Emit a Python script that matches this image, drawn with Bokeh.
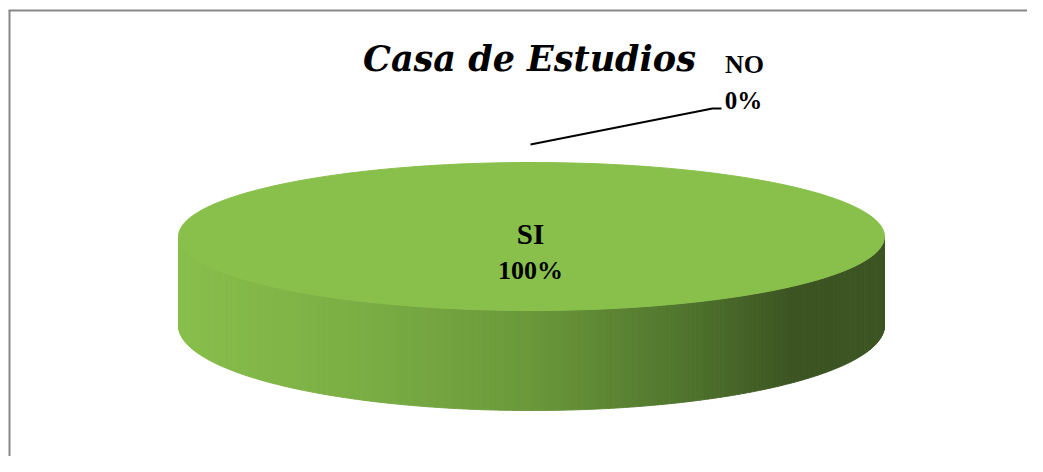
import numpy as np
from bokeh.plotting import figure
from bokeh.models import Range1d
from bokeh.core.properties import value
from bokeh.embed import file_html
from bokeh.resources import INLINE

# ---- data ----
title_text = "Casa de Estudios"
categories = ["SI", "NO"]
values = [100, 0]
slice_colors = ["#89c04c", "#4f81bd"]

# ---- layout (reference pixel coordinates) ----
W, H = 1027, 456
cx, cy = 531.0, 236.0
a, b_top = 353.0, 74.0
depth = 89.0
b_bot = 85.0
FONT = "Liberation Serif"
TFONT = "DejaVu Serif"

p = figure(width=W, height=H, output_backend="svg", toolbar_location=None,
           x_range=Range1d(0, W), y_range=Range1d(H, 0),
           min_border=0, border_fill_color="white")
p.axis.visible = False
p.grid.visible = False
p.outline_line_color = None
p.background_fill_color = "white"

# chart area border (top and left visible)
p.line([8, W + 20], [10, 10], line_color="#888888", line_width=2)
p.line([9, 9], [10, H + 20], line_color="#888888", line_width=2)

total = float(sum(values))
fracs = [v / total for v in values]
starts = np.cumsum([0.0] + fracs[:-1]) * 2 * np.pi
ends = starts + np.array(fracs) * 2 * np.pi


def top_pt(t):
    return cx + a * np.sin(t), cy - b_top * np.cos(t)


def bot_pt(t):
    return cx + a * np.sin(t), cy + depth - b_bot * np.cos(t)


# side gradient stops (fraction across width -> colour)
stops_t = [0.0, 0.27, 0.5, 0.74, 0.87, 1.0]
stops_c = ["#88bf4b", "#7aad44", "#6a983a", "#4d702c", "#3c5422", "#3d5523"]


def hex2rgb(h):
    return np.array([int(h[i:i + 2], 16) for i in (1, 3, 5)], dtype=float)


stops_rgb = np.array([hex2rgb(c) for c in stops_c])


def grad(u):
    r = [np.interp(u, stops_t, stops_rgb[:, k]) for k in range(3)]
    return "#%02x%02x%02x" % tuple(int(round(v)) for v in r)


# side (front half: angle pi/2 .. 3pi/2), for each slice
side_xs, side_ys, side_cols = [], [], []
for s, e, f in zip(starts, ends, fracs):
    if f <= 0:
        continue
    lo, hi = max(s, np.pi / 2), min(e, 3 * np.pi / 2)
    if hi <= lo:
        continue
    ts = np.linspace(lo, hi, 241)
    for t0, t1 in zip(ts[:-1], ts[1:]):
        tt = np.linspace(t0, t1, 4)
        x1, y1 = top_pt(tt)
        x2, y2 = bot_pt(tt[::-1])
        side_xs.append(list(x1) + list(x2))
        side_ys.append(list(y1) + list(y2))
        u = (np.mean(x1) - (cx - a)) / (2 * a)
        side_cols.append(grad(u))

p.patches(xs=side_xs, ys=side_ys, fill_color=side_cols, line_color=side_cols,
          line_width=1)

# top faces
for s, e, f, col in zip(starts, ends, fracs, slice_colors):
    if f <= 0:
        continue
    tt = np.linspace(s, e, 361)
    x, y = top_pt(tt)
    if f < 1:
        x = np.concatenate([[cx], x])
        y = np.concatenate([[cy], y])
    p.patch(x, y, fill_color=col, line_color=col, line_width=1)

# labels
pct = ["%d%%" % round(f * 100) for f in fracs]

# SI label (inside)
p.text(x=[cx - 1], y=[233], text=[categories[0]], text_font=value(FONT),
       text_font_style="bold", text_font_size="29px", text_align="center",
       text_baseline="middle", text_color="black")
p.text(x=[cx - 1], y=[270], text=[pct[0]], text_font=value(FONT),
       text_font_style="bold", text_font_size="26px", text_align="center",
       text_baseline="middle", text_color="black")

# NO label (outside with leader line)
mid_no = (starts[1] + ends[1]) / 2
ax_, ay_ = top_pt(mid_no)
p.line([ax_ - 1, 712, 721], [ay_ - 18, 108, 108], line_color="black", line_width=2)
p.text(x=[744], y=[64], text=[categories[1]], text_font=value(FONT),
       text_font_style="bold", text_font_size="26px", text_align="center",
       text_baseline="middle", text_color="black")
p.text(x=[743], y=[100], text=[pct[1]], text_font=value(FONT),
       text_font_style="bold", text_font_size="25px", text_align="center",
       text_baseline="middle", text_color="black")

# title
p.text(x=[529], y=[58], text=[title_text], text_font=value(TFONT),
       text_font_style="bold italic", text_font_size="35px", text_align="center",
       text_baseline="middle", text_color="black")

open("out.html", "w").write(file_html(p, INLINE))
